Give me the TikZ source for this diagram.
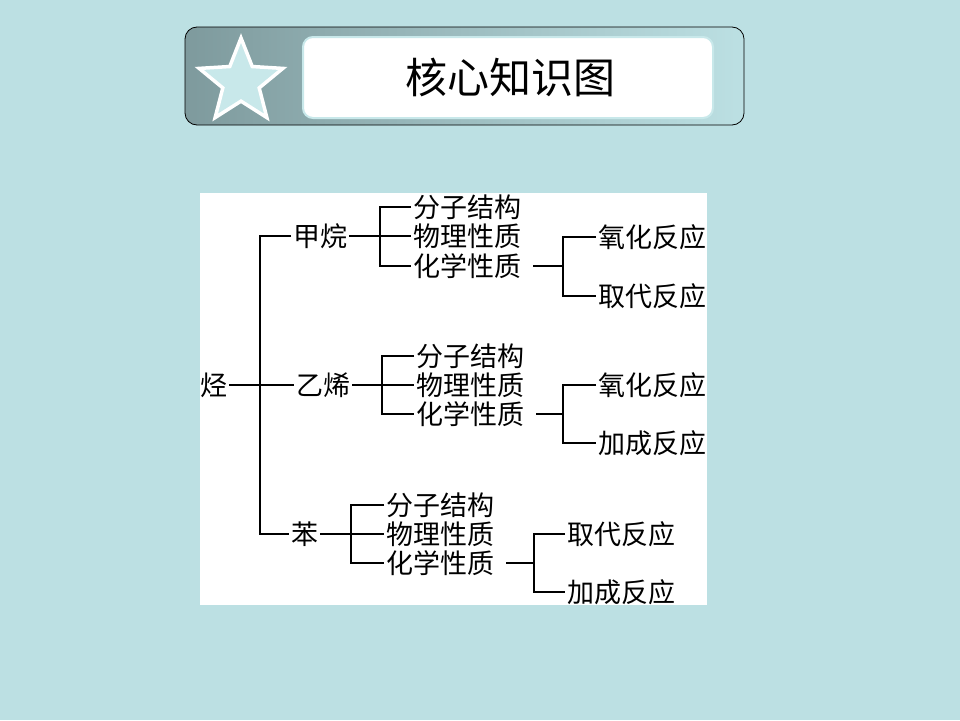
\documentclass[tikz,border=0pt]{standalone}
\usepackage{fontspec}
\usepackage{tikz}
\usetikzlibrary{shapes.geometric}
\newfontfamily\cjk{Noto Sans CJK SC}
\definecolor{bgteal}{RGB}{188,224,227}
\definecolor{hdark}{RGB}{126,154,157}
\definecolor{starfill}{RGB}{200,232,234}

\begin{document}
\begin{tikzpicture}[x=1pt,y=-1pt]
\tikzstyle{term} = [inner sep=2pt, anchor=west, font=\cjk\fontsize{27}{27}\selectfont]
\tikzstyle{title} = [font=\cjk\fontsize{42}{42}\selectfont]
\tikzstyle{line} = [draw=black, line width=1.6pt]

% background and header
\fill[bgteal] (0,0) rectangle (960,720);
\draw[rounded corners=12pt, left color=hdark, right color=bgteal, line width=0.8pt] (185,27) rectangle (744,125);
\draw[rounded corners=10pt, fill=white, draw=starfill, line width=2pt] (303,37) rectangle (713,118);
\node[star, star points=5, star point ratio=2.3, minimum size=88, inner sep=0, fill=starfill, draw=white, line width=3.5pt] (badge) at (241,82) {};
\node[title] (head) at (510,77) {核心知识图};
\fill[white] (200,193) rectangle (707,605);

% tree
\node[term] (hc) at (198,385) {烃};
\node[term] (ch4) at (291,236) {甲烷};
\node[term] (c2h4) at (294,385) {乙烯};
\node[term] (bz) at (289,534) {苯};

\node[term] (p1a) at (411,207) {分子结构};
\node[term] (p1b) at (411,236) {物理性质};
\node[term] (p1c) at (411,266) {化学性质};
\node[term] (p2a) at (414,356) {分子结构};
\node[term] (p2b) at (414,385) {物理性质};
\node[term] (p2c) at (414,414) {化学性质};
\node[term] (p3a) at (384,505) {分子结构};
\node[term] (p3b) at (384,534) {物理性质};
\node[term] (p3c) at (384,563) {化学性质};

\node[term] (r1a) at (596,237) {氧化反应};
\node[term] (r1b) at (596,296) {取代反应};
\node[term] (r2a) at (596,385) {氧化反应};
\node[term] (r2b) at (596,443) {加成反应};
\node[term] (r3a) at (565,534) {取代反应};
\node[term] (r3b) at (565,592) {加成反应};

\coordinate (j0) at (260,385);
\coordinate (j1) at (380,236);
\coordinate (j2) at (382,385);
\coordinate (j3) at (351,534);
\coordinate (k1) at (563,266);
\coordinate (k2) at (563,414);
\coordinate (k3) at (534,563);

\path[line] (hc) -- (c2h4);
\path[line] (ch4.west) -| (j0) |- (bz.west);

\path[line] (ch4) -- (p1b);
\path[line] (p1a.west) -| (j1) |- (p1c.west);
\path[line] (c2h4) -- (p2b);
\path[line] (p2a.west) -| (j2) |- (p2c.west);
\path[line] (bz) -- (p3b);
\path[line] (p3a.west) -| (j3) |- (p3c.west);

\path[line, shorten <=10pt] (p1c.east) -- (k1);
\path[line] (r1a.west) -| (k1) |- (r1b.west);
\path[line, shorten <=10pt] (p2c.east) -- (k2);
\path[line] (r2a.west) -| (k2) |- (r2b.west);
\path[line, shorten <=10pt] (p3c.east) -- (k3);
\path[line] (r3a.west) -| (k3) |- (r3b.west);
\end{tikzpicture}
\end{document}
